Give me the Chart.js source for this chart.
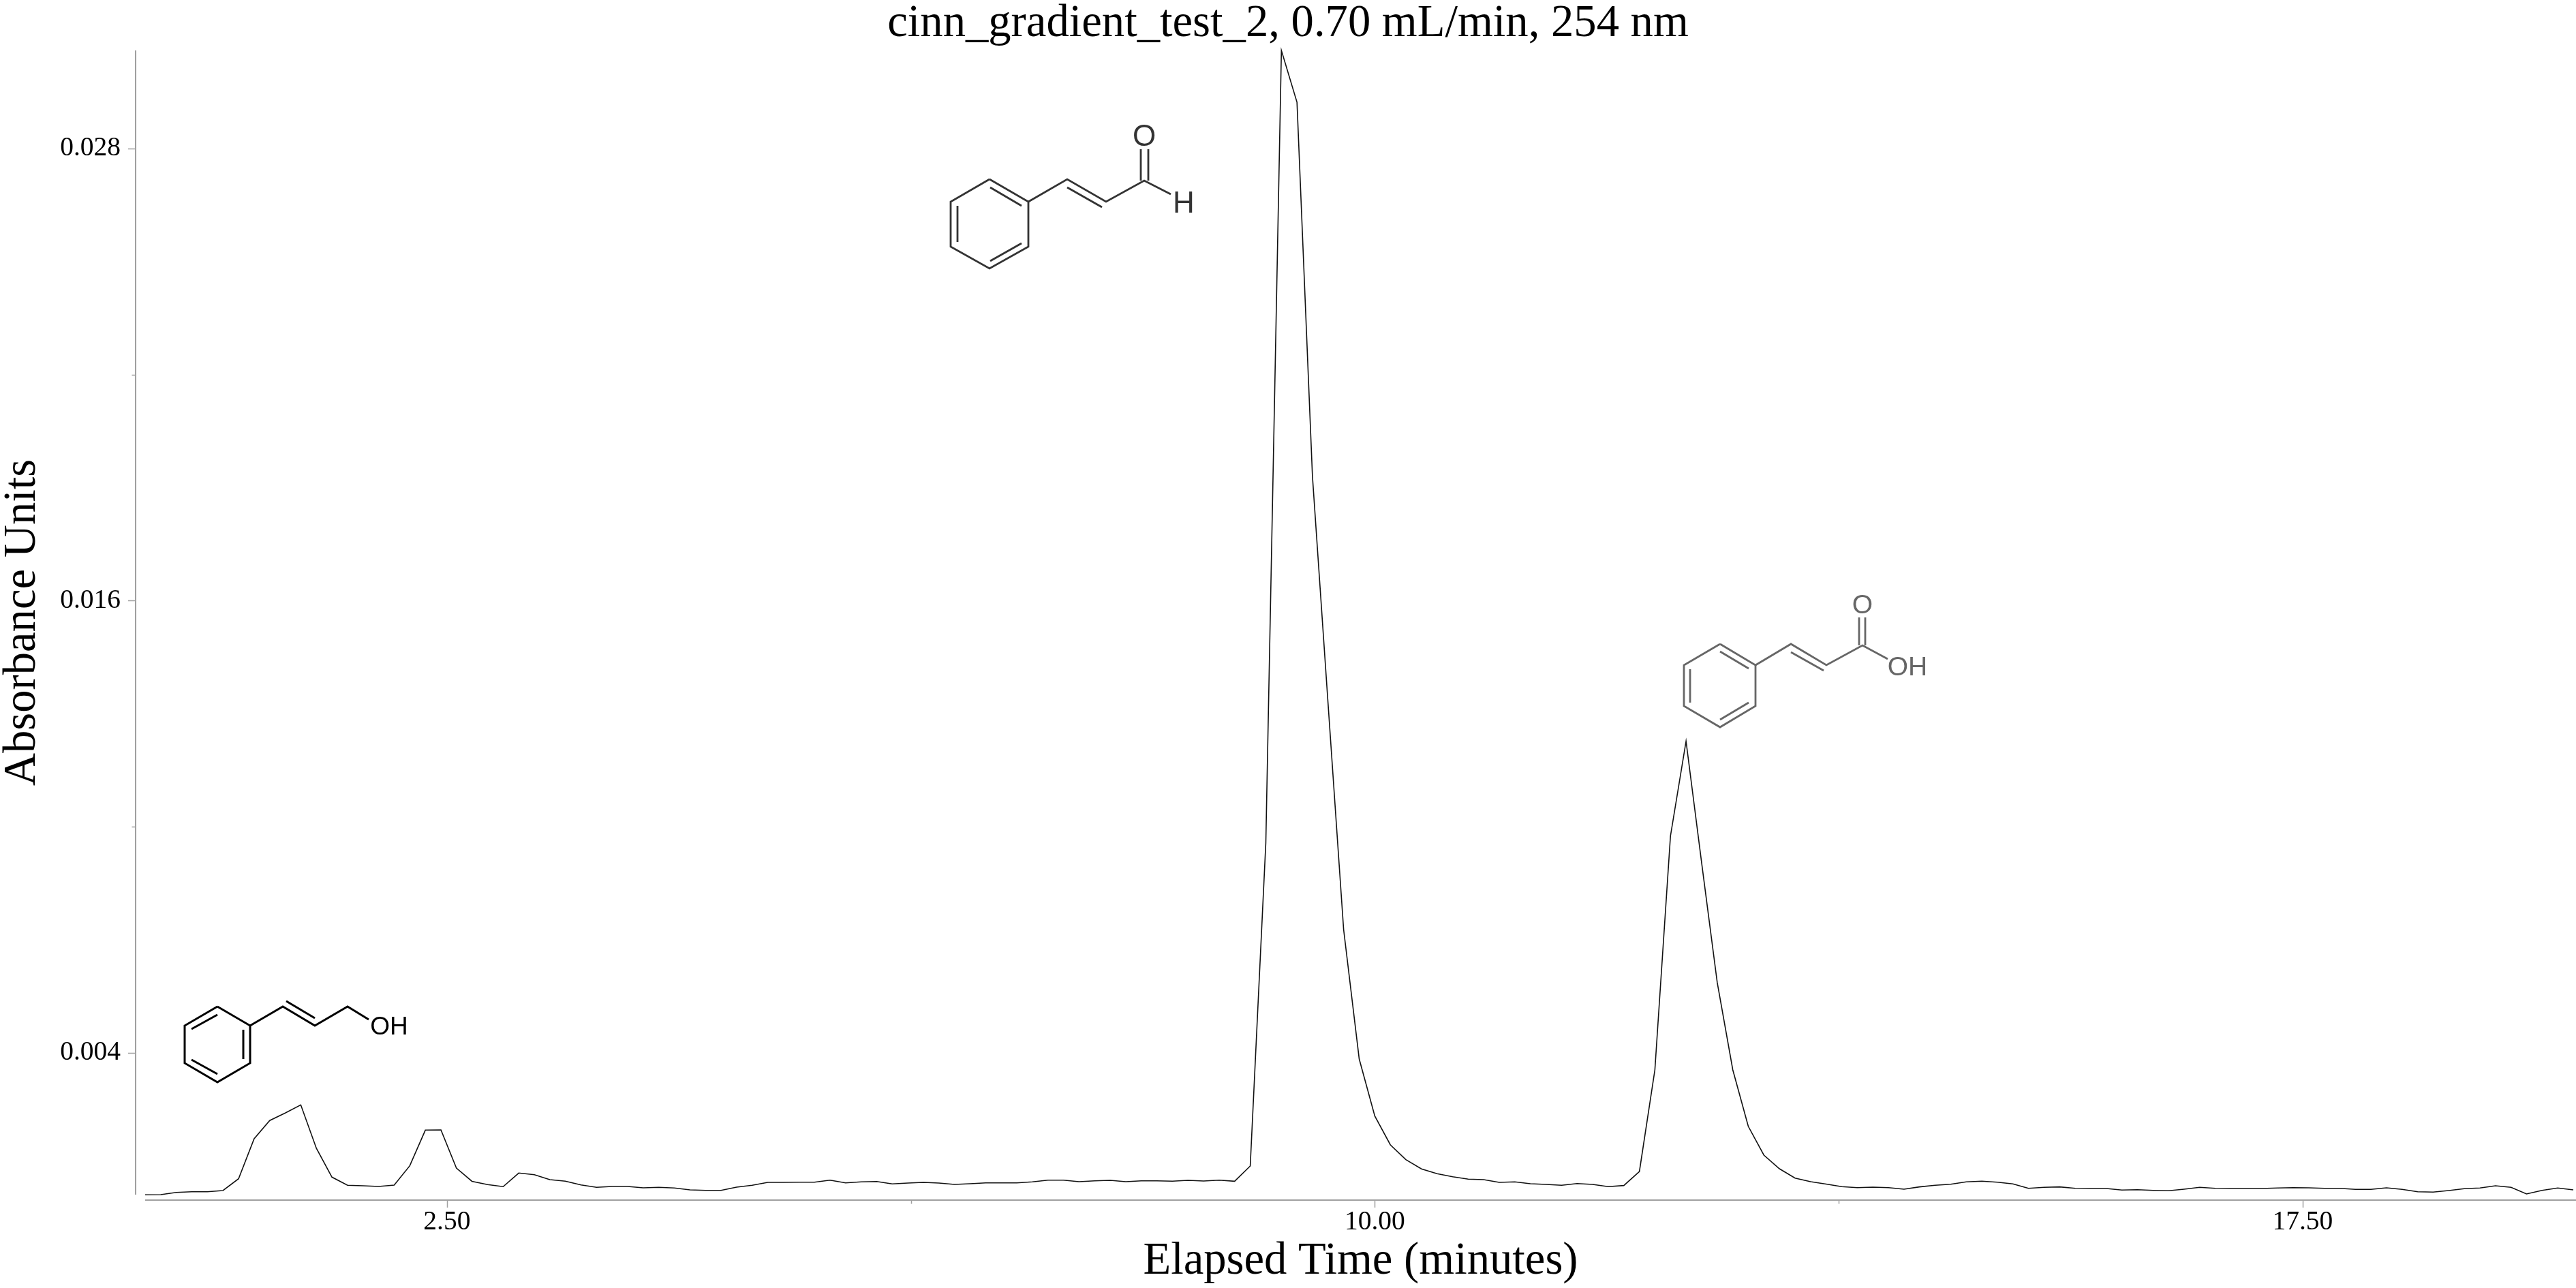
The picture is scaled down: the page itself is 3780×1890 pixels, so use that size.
<!DOCTYPE html>
<html lang="en">
<head>
    <meta charset="UTF-8">
    <title>cinn_gradient_test_2</title>
    <script src="https://cdn.jsdelivr.net/npm/chart.js"></script>
    <style>
        html, body { margin: 0; padding: 0; background: #fff; }
        canvas { display: block; }
    </style>
</head>
<body>
    <canvas id="chromatogram" width="3780" height="1890"></canvas>

    <script>
        const chartTitle = "cinn_gradient_test_2, 0.70 mL/min, 254 nm";
        const xTitle = "Elapsed Time (minutes)";
        const yTitle = "Absorbance Units";

        // retention time in minutes, one per detector reading
        const times = [
            0.060, 0.186, 0.312, 0.437, 0.563, 0.689, 0.815, 0.941, 1.067, 1.192,
            1.318, 1.444, 1.570, 1.696, 1.821, 1.947, 2.073, 2.199, 2.325, 2.451,
            2.576, 2.702, 2.828, 2.954, 3.080, 3.206, 3.331, 3.457, 3.583, 3.709,
            3.835, 3.960, 4.086, 4.212, 4.338, 4.464, 4.590, 4.715, 4.841, 4.967,
            5.093, 5.219, 5.344, 5.470, 5.596, 5.722, 5.848, 5.974, 6.099, 6.225,
            6.351, 6.477, 6.603, 6.728, 6.854, 6.980, 7.106, 7.232, 7.358, 7.483,
            7.609, 7.735, 7.861, 7.987, 8.112, 8.238, 8.364, 8.490, 8.616, 8.742,
            8.867, 8.993, 9.119, 9.245, 9.371, 9.496, 9.622, 9.748, 9.874, 10.000,
            10.126, 10.251, 10.377, 10.503, 10.629, 10.755, 10.880, 11.006, 11.132, 11.258,
            11.384, 11.510, 11.635, 11.761, 11.887, 12.013, 12.139, 12.264, 12.390, 12.516,
            12.642, 12.768, 12.894, 13.019, 13.145, 13.271, 13.397, 13.523, 13.648, 13.774,
            13.900, 14.026, 14.152, 14.278, 14.403, 14.529, 14.655, 14.781, 14.907, 15.033,
            15.158, 15.284, 15.410, 15.536, 15.662, 15.787, 15.913, 16.039, 16.165, 16.291,
            16.417, 16.542, 16.668, 16.794, 16.920, 17.046, 17.171, 17.297, 17.423, 17.549,
            17.675, 17.801, 17.926, 18.052, 18.178, 18.304, 18.430, 18.555, 18.681, 18.807,
            18.933, 19.059, 19.185, 19.310, 19.436, 19.562, 19.688
        ];

        const absorbance = [
            0.000234, 0.000239, 0.000299, 0.000317, 0.000317, 0.000348, 0.000660, 0.001722, 0.002205, 0.002403,
            0.002620, 0.001469, 0.000704, 0.000487, 0.000474, 0.000456, 0.000492, 0.001004, 0.001951, 0.001957,
            0.000944, 0.000592, 0.000505, 0.000451, 0.000812, 0.000769, 0.000637, 0.000595, 0.000498, 0.000433,
            0.000456, 0.000456, 0.000420, 0.000433, 0.000415, 0.000366, 0.000353, 0.000353, 0.000438, 0.000487,
            0.000565, 0.000565, 0.000570, 0.000570, 0.000624, 0.000552, 0.000577, 0.000588, 0.000523, 0.000547,
            0.000565, 0.000547, 0.000510, 0.000529, 0.000552, 0.000552, 0.000552, 0.000577, 0.000624, 0.000624,
            0.000583, 0.000606, 0.000619, 0.000583, 0.000606, 0.000606, 0.000595, 0.000619, 0.000601, 0.000624,
            0.000595, 0.000999, 0.009569, 0.030596, 0.029222, 0.019296, 0.013275, 0.007272, 0.003837, 0.002324,
            0.001559, 0.001167, 0.000921, 0.000794, 0.000715, 0.000650, 0.000637, 0.000565, 0.000577, 0.000529,
            0.000510, 0.000487, 0.000534, 0.000510, 0.000451, 0.000480, 0.000854, 0.003548, 0.009755, 0.012268,
            0.009044, 0.005868, 0.003548, 0.002051, 0.001288, 0.000926, 0.000679, 0.000583, 0.000520, 0.000451,
            0.000425, 0.000438, 0.000425, 0.000384, 0.000444, 0.000487, 0.000516, 0.000577, 0.000595, 0.000570,
            0.000523, 0.000407, 0.000433, 0.000444, 0.000407, 0.000402, 0.000402, 0.000360, 0.000371, 0.000353,
            0.000342, 0.000384, 0.000433, 0.000407, 0.000402, 0.000402, 0.000402, 0.000415, 0.000425, 0.000420,
            0.000407, 0.000407, 0.000378, 0.000378, 0.000420, 0.000378, 0.000317, 0.000306, 0.000348, 0.000397,
            0.000415, 0.000474, 0.000433, 0.000257, 0.000353, 0.000415, 0.000366
        ];

        const xTicks = [2.5, 6.25, 10, 13.75, 17.5];
        const xTickLabels = ["2.50", "", "10.00", "", "17.50"];
        const yTicks = [0.004, 0.010, 0.016, 0.022, 0.028];
        const yTickLabels = ["0.004", "", "0.016", "", "0.028"];

        const serif = "'Liberation Serif', serif";
        const sans = "'Liberation Sans', sans-serif";
        const axisColor = "#a0a0a0";

        // the axis lines sit a little away from the plot, so they are drawn here from the scales
        const axisLines = {
            id: "axisLines",
            afterDatasetsDraw(chart) {
                const ctx = chart.ctx;
                const x = chart.scales.x;
                const y = chart.scales.y;
                const axisX = x.left - 14;
                const axisY = y.bottom + 8;
                ctx.save();
                ctx.strokeStyle = axisColor;
                ctx.lineWidth = 2;
                ctx.beginPath();
                ctx.moveTo(axisX, y.top);
                ctx.lineTo(axisX, y.bottom);
                ctx.moveTo(x.left, axisY);
                ctx.lineTo(x.right, axisY);
                ctx.stroke();
                ctx.lineWidth = 1.5;
                ctx.beginPath();
                yTicks.forEach((v, i) => {
                    const py = Math.round(y.getPixelForValue(v)) + 0.5;
                    ctx.moveTo(axisX, py);
                    ctx.lineTo(axisX - (yTickLabels[i] ? 11 : 5.5), py);
                });
                xTicks.forEach((v, i) => {
                    const px = Math.round(x.getPixelForValue(v)) + 0.5;
                    ctx.moveTo(px, axisY);
                    ctx.lineTo(px, axisY + (xTickLabels[i] ? 11 : 5.5));
                });
                ctx.stroke();
                ctx.restore();
            }
        };

        function bonds(ctx, color, width, lines) {
            ctx.strokeStyle = color;
            ctx.lineWidth = width;
            ctx.lineJoin = "miter";
            lines.forEach(l => {
                ctx.beginPath();
                ctx.moveTo(l[0], l[1]);
                for (let i = 2; i < l.length; i += 2) ctx.lineTo(l[i], l[i + 1]);
                ctx.stroke();
            });
        }

        function atom(ctx, color, size, text, x, y) {
            ctx.fillStyle = color;
            ctx.font = size + "px " + sans;
            ctx.textAlign = "center";
            ctx.textBaseline = "middle";
            ctx.fillText(text, x, y);
        }

        // structure sketches next to the peaks
        const structures = {
            id: "structures",
            afterDraw(chart) {
                const ctx = chart.ctx;
                ctx.save();

                // cinnamyl alcohol
                bonds(ctx, "#000", 3, [
                    [319, 1477, 367, 1505, 367, 1560, 319, 1588, 271, 1560, 271, 1505, 319, 1477],
                    [281, 1510, 319, 1489], [357, 1511, 357, 1554], [281, 1555, 319, 1576],
                    [367, 1505, 415, 1477, 462, 1505, 510, 1477, 541, 1496],
                    [420, 1469, 462, 1494]
                ]);
                atom(ctx, "#000", 37, "OH", 571, 1508);

                // cinnamaldehyde
                bonds(ctx, "#333", 2.8, [
                    [1452, 263, 1509, 296, 1509, 362, 1452, 394, 1395, 362, 1395, 296, 1452, 263],
                    [1453, 275, 1499, 302], [1405, 302, 1405, 355], [1453, 383, 1499, 357],
                    [1509, 296, 1566, 263, 1623, 296, 1679, 265, 1718, 285],
                    [1566, 275, 1617, 304],
                    [1674, 265, 1674, 219], [1685, 265, 1685, 219]
                ]);
                atom(ctx, "#333", 44, "O", 1679, 202);
                atom(ctx, "#333", 44, "H", 1737, 300);

                // cinnamic acid
                bonds(ctx, "#666", 2.8, [
                    [2524, 945, 2576, 976, 2576, 1036, 2524, 1067, 2471, 1036, 2471, 976, 2524, 945],
                    [2524, 956, 2566, 981], [2480, 982, 2480, 1031], [2524, 1056, 2566, 1031],
                    [2576, 976, 2628, 945, 2680, 976, 2733, 947, 2770, 967],
                    [2628, 957, 2676, 984],
                    [2728, 947, 2728, 906], [2737, 947, 2737, 906]
                ]);
                atom(ctx, "#666", 39, "O", 2733, 889);
                atom(ctx, "#666", 39, "OH", 2799, 980);

                ctx.restore();
            }
        };

        new Chart(document.getElementById("chromatogram"), {
            type: "line",
            data: {
                datasets: [{
                    data: times.map((t, i) => ({ x: t, y: absorbance[i] })),
                    borderColor: "#111",
                    borderWidth: 1.6,
                    pointRadius: 0,
                    tension: 0,
                    fill: false,
                    clip: false
                }]
            },
            plugins: [axisLines, structures],
            options: {
                responsive: false,
                animation: false,
                parsing: false,
                normalized: true,
                layout: { padding: 0 },
                plugins: {
                    legend: { display: false },
                    tooltip: { enabled: false },
                    title: {
                        display: true,
                        text: chartTitle,
                        color: "#000",
                        font: { family: serif, size: 66.67, weight: "normal", lineHeight: 1 },
                        padding: { top: 2, bottom: 5.33 }
                    }
                },
                scales: {
                    x: {
                        type: "linear",
                        min: 0.06,
                        max: 19.71,
                        border: { display: false },
                        grid: { display: false, drawTicks: false },
                        afterBuildTicks: scale => { scale.ticks = xTicks.map(v => ({ value: v })); },
                        afterFit: scale => { scale.height = 137; },
                        ticks: {
                            autoSkip: false,
                            maxRotation: 0,
                            padding: 17,
                            color: "#000",
                            font: { family: serif, size: 39.5 },
                            callback: v => xTickLabels[xTicks.indexOf(v)]
                        },
                        title: {
                            display: true,
                            text: xTitle,
                            color: "#000",
                            font: { family: serif, size: 66.67, lineHeight: 1 },
                            padding: 5
                        }
                    },
                    y: {
                        type: "linear",
                        min: 0.000239,
                        max: 0.030598,
                        border: { display: false },
                        grid: { display: false, drawTicks: false },
                        afterBuildTicks: scale => { scale.ticks = yTicks.map(v => ({ value: v })); },
                        afterFit: scale => { scale.width = 213; },
                        ticks: {
                            autoSkip: false,
                            padding: 36,
                            color: "#000",
                            font: { family: serif, size: 39.5 },
                            callback: v => yTickLabels[yTicks.indexOf(v)]
                        },
                        title: {
                            display: true,
                            text: yTitle,
                            color: "#000",
                            font: { family: serif, size: 66.67, lineHeight: 1 },
                            padding: 0
                        }
                    }
                }
            }
        });
    </script>
</body>
</html>
